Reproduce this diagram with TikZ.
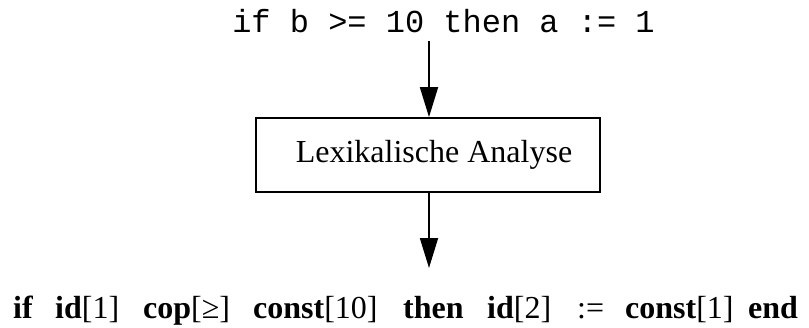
\documentclass[tikz,border=0pt]{standalone}
\usepackage{fontspec}
\setmainfont{Liberation Serif}
\setmonofont{Liberation Mono}
\usetikzlibrary{arrows.meta}
\tikzset{
  arr/.style={line width=1.8pt, -{Triangle[length=30pt,width=18pt]}},
  boxst/.style={draw, line width=1.8pt, minimum width=344pt, minimum height=74pt, inner sep=0pt,
    font=\fontsize{32}{38}\selectfont},
  tok/.style={anchor=base west, inner sep=0pt, font=\fontsize{32}{38}\selectfont}
}
\begin{document}
\begin{tikzpicture}[x=1pt,y=1pt]
\useasboundingbox (0,0) rectangle (809,-327);
\node[anchor=base, inner sep=0pt, font=\ttfamily\fontsize{32}{38}\selectfont] (src) at (443.5,-32) {if b >= 10 then a := 1};
\coordinate (in) at (429,-41);
\node[boxst] (box) at (428,-155) {\hspace{12pt}Lexikalische Analyse};
\coordinate (out) at (429,-268);
\draw[arr] (in) -- (in |- box.north);
\draw[arr] (box.south -| out) -- (out);
\node[tok] (t1) at (13,-318) {\textbf{if}};
\node[tok] (t2) at (55,-318) {\textbf{id}[1]};
\node[tok] (t3) at (143,-318) {\textbf{cop}[≥]};
\node[tok] (t4) at (253,-318) {\textbf{const}[10]};
\node[tok] (t5) at (403,-318) {\textbf{then}};
\node[tok] (t6) at (487,-318) {\textbf{id}[2]};
\node[tok] (t7) at (577,-318) {:=};
\node[tok] (t8) at (625,-318) {\textbf{const}[1]};
\node[tok] (t9) at (748,-318) {\textbf{end}};
\end{tikzpicture}
\end{document}
